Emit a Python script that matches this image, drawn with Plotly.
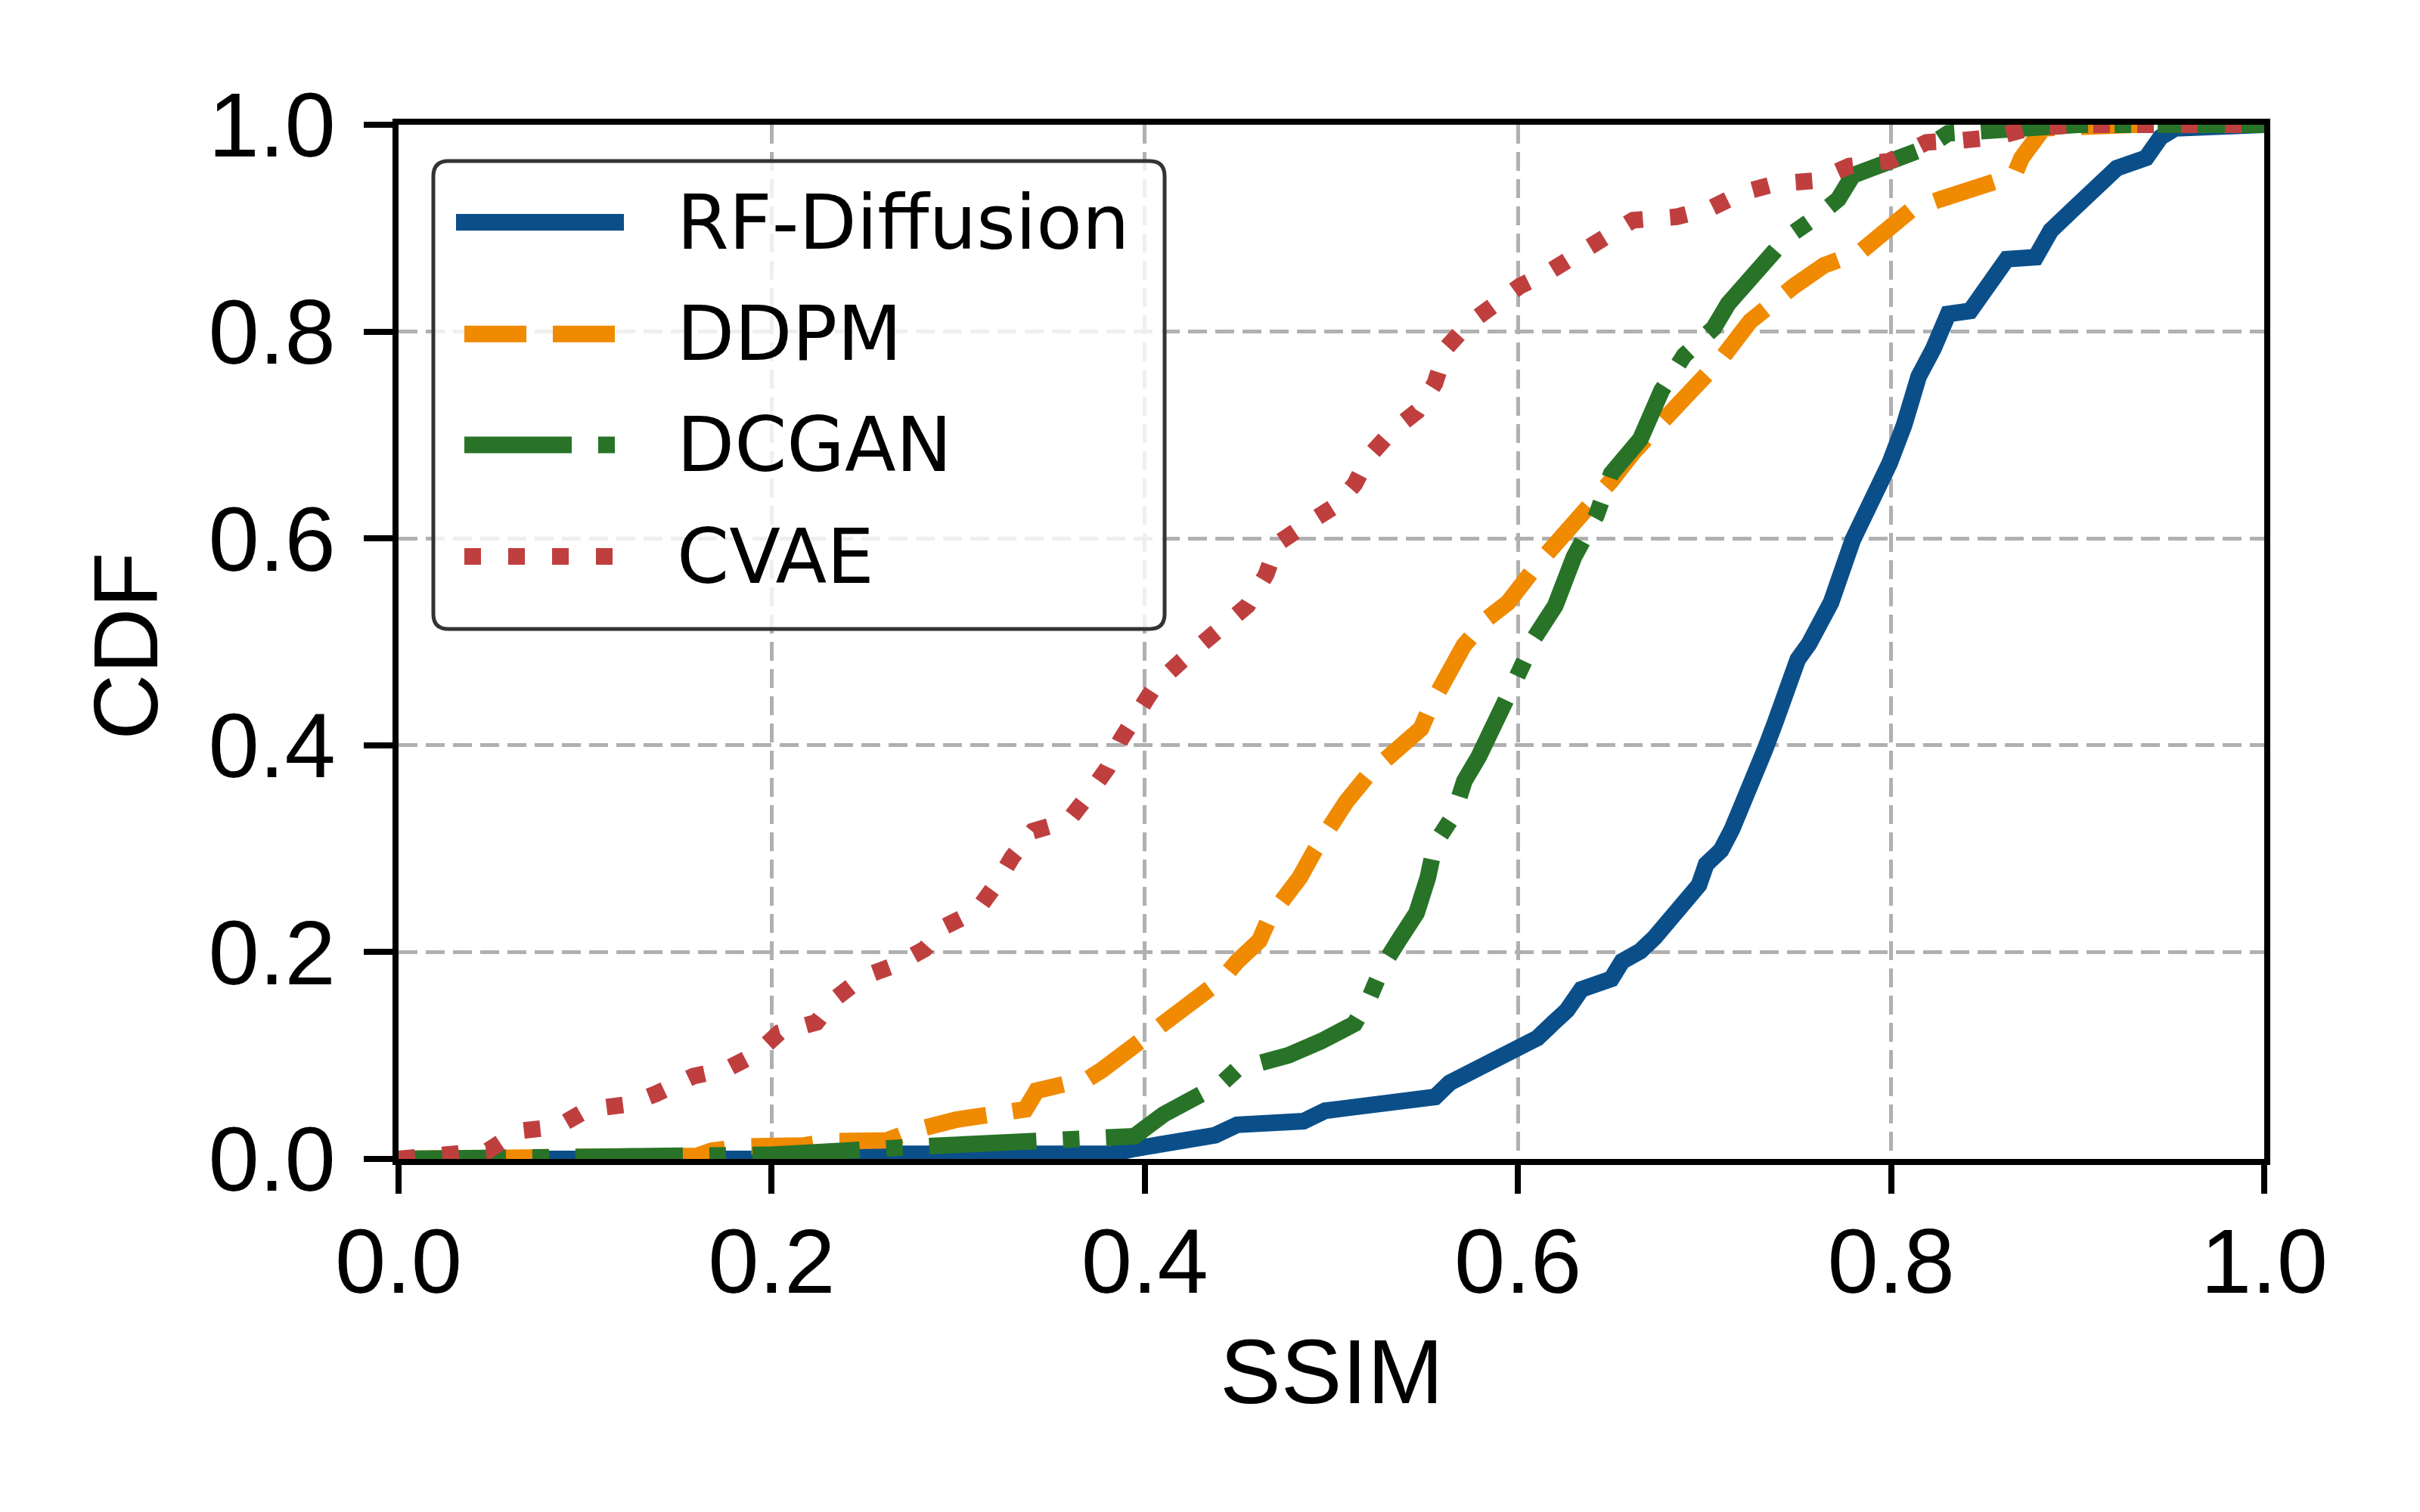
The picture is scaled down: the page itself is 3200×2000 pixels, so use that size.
import plotly.graph_objects as go

# ---------------- data ----------------
names = ["RF-Diffusion", "DDPM", "DCGAN", "CVAE"]

rf_x = [0.0, 0.212, 0.216, 0.382, 0.395, 0.41, 0.422, 0.4377, 0.4495, 0.485, 0.4966, 0.52,
        0.5556, 0.5634, 0.5753, 0.587, 0.5988, 0.6105, 0.6184, 0.6263, 0.634, 0.65, 0.6558,
        0.6656, 0.6734, 0.6813, 0.689, 0.697, 0.7009, 0.7088, 0.7147, 0.7206, 0.7264, 0.7324,
        0.738, 0.744, 0.75, 0.756, 0.7678, 0.7795, 0.7913, 0.7992, 0.807, 0.8148, 0.8227,
        0.8306, 0.8424, 0.854, 0.862, 0.8775, 0.8856, 0.8974, 0.9092, 0.921, 0.9367, 0.9445,
        0.9524, 1.0]
rf_y = [0.0, 0.0, 0.005, 0.005, 0.01, 0.014, 0.0166, 0.023, 0.033, 0.0365, 0.0466, 0.053,
        0.06, 0.0736, 0.0835, 0.097, 0.107, 0.117, 0.1307, 0.1438, 0.164, 0.174, 0.191,
        0.201, 0.2144, 0.231, 0.2448, 0.2648, 0.285, 0.2984, 0.3186, 0.342, 0.3655, 0.3958,
        0.4226, 0.46, 0.483, 0.498, 0.538, 0.5987, 0.639, 0.6726, 0.7096, 0.7567, 0.7835,
        0.817, 0.82, 0.8506, 0.87, 0.872, 0.8977, 0.918, 0.938, 0.958, 0.968, 0.988,
        0.9966, 1.0]

ddpm_x = [0.0, 0.16, 0.168, 0.185, 0.217, 0.23, 0.262, 0.275, 0.299, 0.315, 0.336, 0.342,
          0.37, 0.377, 0.3945, 0.414, 0.426, 0.4416, 0.4495, 0.4614, 0.467, 0.473, 0.483,
          0.491, 0.5006, 0.508, 0.52, 0.532, 0.548, 0.5536, 0.5635, 0.571, 0.583, 0.5947,
          0.6105, 0.6223, 0.638, 0.65, 0.6617, 0.677, 0.693, 0.709, 0.7245, 0.748, 0.764,
          0.7835, 0.799, 0.811, 0.8265, 0.846, 0.866, 0.87, 0.8775, 0.8817, 0.93, 1.0]
ddpm_y = [0.0, 0.003, 0.008, 0.012, 0.013, 0.017, 0.018, 0.027, 0.038, 0.042, 0.048, 0.066,
          0.078, 0.086, 0.11, 0.1405, 0.154, 0.174, 0.191, 0.211, 0.234, 0.248, 0.272,
          0.298, 0.325, 0.3455, 0.372, 0.3925, 0.416, 0.4395, 0.4697, 0.4965, 0.5216, 0.538,
          0.575, 0.5987, 0.6258, 0.6558, 0.683, 0.71, 0.743, 0.7735, 0.81, 0.844, 0.864,
          0.877, 0.8977, 0.918, 0.928, 0.938, 0.951, 0.968, 0.988, 0.9966, 1.0, 1.0]

dcgan_x = [0.0, 0.2, 0.28, 0.336, 0.35, 0.372, 0.3945, 0.41, 0.426, 0.4416, 0.4495, 0.469,
           0.477, 0.4946, 0.5124, 0.52, 0.528, 0.536, 0.5457, 0.5517, 0.5556, 0.5654, 0.5713,
           0.579, 0.587, 0.5968, 0.6047, 0.6067, 0.62, 0.63, 0.642, 0.65, 0.6656, 0.677,
           0.689, 0.705, 0.7127, 0.7206, 0.7324, 0.744, 0.76, 0.7717, 0.7795, 0.799, 0.819,
           0.8306, 0.858, 0.9, 1.0]
dcgan_y = [0.0, 0.004, 0.012, 0.015, 0.017, 0.02, 0.022, 0.043, 0.057, 0.0737, 0.0868, 0.0936,
           0.1003, 0.1139, 0.1307, 0.154, 0.188, 0.211, 0.238, 0.272, 0.305, 0.332, 0.3655,
           0.389, 0.4226, 0.456, 0.4865, 0.498, 0.535, 0.582, 0.622, 0.6626, 0.696, 0.743,
           0.7767, 0.8036, 0.827, 0.844, 0.8708, 0.891, 0.911, 0.928, 0.951, 0.9648, 0.978,
           0.9917, 0.995, 1.0, 1.0]

cvae_x = [0.0, 0.023, 0.048, 0.064, 0.085, 0.1015, 0.124, 0.138, 0.158, 0.176, 0.192, 0.204,
          0.224, 0.234, 0.249, 0.267, 0.282, 0.293, 0.31, 0.32, 0.329, 0.34, 0.359, 0.369,
          0.38, 0.387, 0.396, 0.406, 0.42, 0.43, 0.4416, 0.455, 0.465, 0.471, 0.485, 0.5026,
          0.5125, 0.52, 0.532, 0.546, 0.5555, 0.5615, 0.573, 0.587, 0.601, 0.6165, 0.63,
          0.646, 0.6617, 0.685, 0.703, 0.7206, 0.738, 0.76, 0.7775, 0.799, 0.819, 0.838,
          0.856, 0.874, 0.9, 1.0]
cvae_y = [0.0, 0.003, 0.008, 0.027, 0.031, 0.048, 0.053, 0.063, 0.080, 0.087, 0.102, 0.122,
          0.132, 0.155, 0.176, 0.188, 0.203, 0.225, 0.24, 0.265, 0.292, 0.317, 0.327, 0.35,
          0.378, 0.405, 0.432, 0.459, 0.482, 0.498, 0.518, 0.535, 0.565, 0.595, 0.612, 0.632,
          0.6525, 0.679, 0.703, 0.723, 0.75, 0.784, 0.807, 0.827, 0.844, 0.8577, 0.874,
          0.891, 0.9077, 0.911, 0.919, 0.9346, 0.943, 0.946, 0.96, 0.9648, 0.983, 0.9849,
          0.988, 0.9966, 1.0, 1.0]

tick_vals = [0.0, 0.2, 0.4, 0.6, 0.8, 1.0]
tick_text = ["0.0", "0.2", "0.4", "0.6", "0.8", "1.0"]
x_title = "SSIM"
y_title = "CDF"

# ---------------- styles ----------------
colors = ["#0b4f8a", "#f08a00", "#287328", "#bf3f3f"]
dashes = ["solid", "82px,35px", "142px,35px,22px,35px", "22px,36px"]
LW = 22

W, H = 3200, 2000
L, R, T, B = 527, 206, 165, 467
PW, PH = W - L - R, H - T - B

def px(X):
    return (X - L) / PW

def py(Y):
    return (H - B - Y) / PH

series = [(rf_x, rf_y), (ddpm_x, ddpm_y), (dcgan_x, dcgan_y), (cvae_x, cvae_y)]

fig = go.Figure()
for (xs, ys), name, c, d in zip(series, names, colors, dashes):
    fig.add_trace(go.Scatter(x=xs, y=ys, mode="lines", name=name, showlegend=False,
                             line=dict(color=c, width=LW, dash=d)))

tick_font = dict(family="Liberation Sans, Arial, Helvetica, sans-serif", size=121, color="black")
axis_common = dict(range=[0, 1], tickvals=tick_vals, ticktext=tick_text,
                   showline=True, linecolor="black", linewidth=8, mirror=True,
                   ticks="outside", ticklen=38, tickwidth=8, tickcolor="black",
                   showgrid=True, gridcolor="#b0b0b0", gridwidth=5, griddash="25px,11px",
                   zeroline=False, tickfont=tick_font, fixedrange=True)

fig.update_layout(
    width=W, height=H,
    margin=dict(l=L, r=R, t=T, b=B, pad=0),
    paper_bgcolor="white", plot_bgcolor="white",
    xaxis=dict(**axis_common, ticklabelstandoff=-14),
    yaxis=dict(**axis_common, ticklabelstandoff=13),
    showlegend=False,
)

annotations = [
    dict(text=x_title, x=0.5, y=py(1814), xref="paper", yref="paper",
         xanchor="center", yanchor="middle", showarrow=False, font=tick_font),
    dict(text=y_title, x=px(166), y=py(855), xref="paper", yref="paper",
         xanchor="center", yanchor="middle", showarrow=False, font=tick_font, textangle=-90),
]

# custom legend (matplotlib style)
bx0, bx1, by0, by1, rr = 573, 1540, 213, 832, 20
rx, ry = rr / PW, rr / PH
X0, X1, Y0, Y1 = px(bx0), px(bx1), py(by0), py(by1)
path = (f"M {X0+rx},{Y0} L {X1-rx},{Y0} Q {X1},{Y0} {X1},{Y0-ry} "
        f"L {X1},{Y1+ry} Q {X1},{Y1} {X1-rx},{Y1} "
        f"L {X0+rx},{Y1} Q {X0},{Y1} {X0},{Y1+ry} "
        f"L {X0},{Y0-ry} Q {X0},{Y0} {X0+rx},{Y0} Z")
shapes = [dict(type="path", path=path, xref="paper", yref="paper", layer="above",
               fillcolor="rgba(255,255,255,0.8)", line=dict(color="#333333", width=5))]

row_y = [294, 441.7, 588.6, 736]
legend_font = dict(family="DejaVu Sans, sans-serif", size=99, color="black")
for i, (name, c, d) in enumerate(zip(names, colors, dashes)):
    lx0, lx1 = (603, 825) if d == "solid" else (614, 814)
    shapes.append(dict(type="line", xref="paper", yref="paper", layer="above",
                       x0=px(lx0), x1=px(lx1), y0=py(row_y[i]), y1=py(row_y[i]),
                       line=dict(color=c, width=LW, dash=d)))
    annotations.append(dict(text=name, x=px(893), y=py(row_y[i]), xref="paper", yref="paper",
                            xanchor="left", yanchor="middle", showarrow=False, font=legend_font))

fig.update_layout(shapes=shapes, annotations=annotations)
fig.write_html("out.html")
